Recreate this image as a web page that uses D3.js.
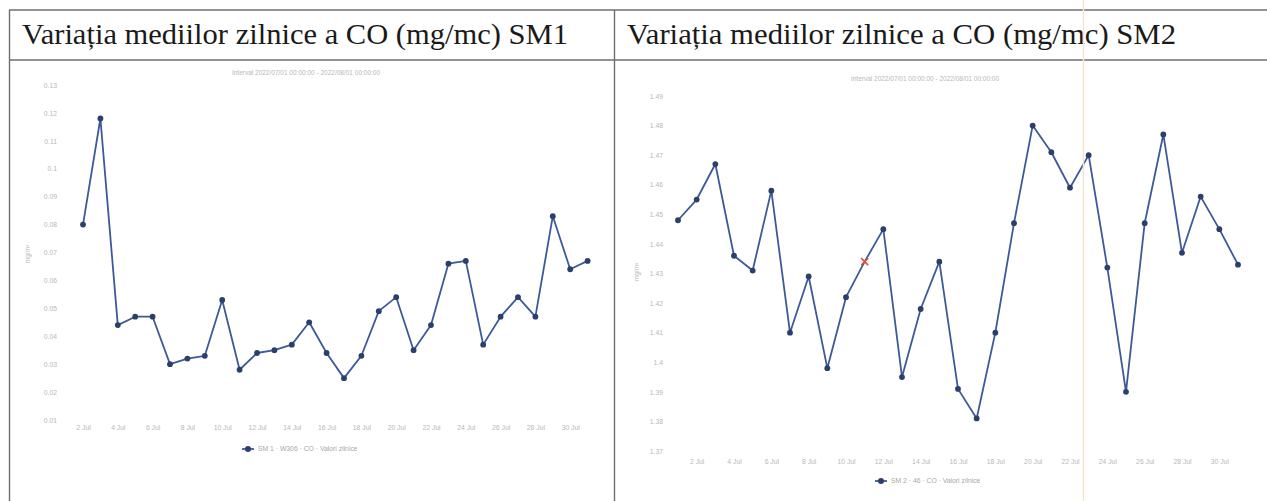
<!DOCTYPE html>
<html>
<head>
<meta charset="utf-8">
<script src="https://cdn.jsdelivr.net/npm/d3@7"></script>
<style>
  html, body { margin: 0; padding: 0; background: #fff; }
  svg { display: block; }
</style>
</head>
<body>
<svg id="chart" width="1267" height="501"></svg>
<script>
// ---- Data ----
const titleSM1 = "Variația mediilor zilnice a CO (mg/mc) SM1";
const titleSM2 = "Variația mediilor zilnice a CO (mg/mc) SM2";
const subtitleText = "Interval 2022/07/01 00:00:00 - 2022/08/01 00:00:00";
const legendSM1 = "SM 1 · W306 · CO · Valori zilnice";
const legendSM2 = "SM 2 · 46 · CO · Valori zilnice";
const unitLabel = "mg/m³";

const sm1Days = [2,3,4,5,6,7,8,9,10,11,12,13,14,15,16,17,18,19,20,21,22,23,24,25,26,27,28,29,30,31];
const sm1Values = [0.080,0.118,0.044,0.047,0.047,0.030,0.032,0.033,0.053,0.028,
                   0.034,0.035,0.037,0.045,0.034,0.025,0.033,0.049,0.054,0.035,
                   0.044,0.066,0.067,0.037,0.047,0.054,0.047,0.083,0.064,0.067];

const sm2Days = [1,2,3,4,5,6,7,8,9,10,11,12,13,14,15,16,17,18,19,20,21,22,23,24,25,26,27,28,29,30,31];
const sm2Values = [1.448,1.455,1.467,1.436,1.431,1.458,1.410,1.429,1.398,1.422,
                   1.434,1.445,1.395,1.418,1.434,1.391,1.381,1.410,1.447,1.480,
                   1.471,1.459,1.470,1.432,1.390,1.447,1.477,1.437,1.456,1.445,1.433];
const sm2HighlightDay = 11;

const sm1YTicks = [0.01,0.02,0.03,0.04,0.05,0.06,0.07,0.08,0.09,0.1,0.11,0.12,0.13];
const sm2YTicks = [1.37,1.38,1.39,1.4,1.41,1.42,1.43,1.44,1.45,1.46,1.47,1.48,1.49];
const xTickDays = [2,4,6,8,10,12,14,16,18,20,22,24,26,28,30];

// ---- Drawing ----
const svg = d3.select("#chart");
const day = d => new Date(2022, 6, d);
const monthFmt = d3.timeFormat("%-d Jul");

// table frame
const frame = svg.append("g").attr("stroke", "#6f6f6f").attr("stroke-width", 1.4).attr("fill", "none");
frame.append("line").attr("x1", 9).attr("x2", 1267).attr("y1", 10).attr("y2", 10);
frame.append("line").attr("x1", 9).attr("x2", 1267).attr("y1", 60).attr("y2", 60);
frame.append("line").attr("x1", 9.5).attr("x2", 9.5).attr("y1", 10).attr("y2", 501);
frame.append("line").attr("x1", 614.5).attr("x2", 614.5).attr("y1", 10).attr("y2", 501);

// titles
svg.append("text").attr("x", 22).attr("y", 44)
  .attr("font-family", "'Liberation Serif', 'Times New Roman', serif")
  .attr("font-size", 30).attr("fill", "#1a1a1a")
  .attr("textLength", 546).attr("lengthAdjust", "spacingAndGlyphs").text(titleSM1);
svg.append("text").attr("x", 627).attr("y", 44)
  .attr("font-family", "'Liberation Serif', 'Times New Roman', serif")
  .attr("font-size", 30).attr("fill", "#1a1a1a")
  .attr("textLength", 549).attr("lengthAdjust", "spacingAndGlyphs").text(titleSM2);

const lineColor = "#3d5a98";
const dotColor = "#2b3f6c";
const faint = "#b8b8b8";
const sans = "'Liberation Sans', Arial, sans-serif";

function drawPanel(cfg) {
  const x = d3.scaleTime().domain([day(cfg.days[0]), day(cfg.days[cfg.days.length - 1])]).range(cfg.xRange);
  const y = d3.scaleLinear().domain(cfg.yDomain).range(cfg.yRange);
  const g = svg.append("g");

  // subtitle
  g.append("text").attr("x", cfg.subtitlePos[0]).attr("y", cfg.subtitlePos[1])
    .attr("text-anchor", "middle").attr("font-family", sans).attr("font-size", 6.5)
    .attr("fill", faint).text(subtitleText);

  // y axis
  const yAxis = d3.axisLeft(y).tickValues(cfg.yTicks).tickSize(0).tickPadding(0)
    .tickFormat(d3.format("~g"));
  const ya = g.append("g").attr("transform", `translate(${cfg.yAxisX},0)`).call(yAxis);
  ya.select(".domain").remove();
  ya.selectAll("text").attr("font-family", sans).attr("font-size", 6.8).attr("fill", faint);

  // unit label
  g.append("text").attr("transform", `translate(${cfg.unitPos[0]},${cfg.unitPos[1]}) rotate(-90)`)
    .attr("text-anchor", "middle").attr("font-family", sans).attr("font-size", 6.5)
    .attr("fill", faint).text(unitLabel);

  // x axis
  const xAxis = d3.axisBottom(x).tickValues(xTickDays.map(day)).tickSize(0).tickPadding(0)
    .tickFormat(monthFmt);
  const xa = g.append("g").attr("transform", `translate(0,${cfg.xAxisY})`).call(xAxis);
  xa.select(".domain").remove();
  xa.selectAll("text").attr("font-family", sans).attr("font-size", 6.8).attr("fill", faint);

  // line
  const data = cfg.days.map((d, i) => ({ d, v: cfg.values[i] }));
  const line = d3.line().x(p => x(day(p.d))).y(p => y(p.v));
  g.append("path").datum(data).attr("d", line).attr("fill", "none")
    .attr("stroke", lineColor).attr("stroke-width", 1.8).attr("stroke-linejoin", "round");

  g.selectAll("circle.pt").data(data.filter(p => p.d !== cfg.highlight)).enter()
    .append("circle").attr("class", "pt")
    .attr("cx", p => x(day(p.d))).attr("cy", p => y(p.v)).attr("r", 2.9)
    .attr("fill", dotColor);

  if (cfg.highlight) {
    const hp = data.find(p => p.d === cfg.highlight);
    const hx = x(day(hp.d)), hy = y(hp.v);
    g.append("path").attr("d", `M${hx-3.5},${hy-3.5}L${hx+3.5},${hy+3.5}M${hx-3.5},${hy+3.5}L${hx+3.5},${hy-3.5}`)
      .attr("stroke", "#e0503a").attr("stroke-width", 1.6);
  }

  // legend
  const lg = g.append("g").attr("transform", `translate(${cfg.legendPos[0]},${cfg.legendPos[1]})`);
  lg.append("line").attr("x1", 0).attr("x2", 12).attr("y1", 0).attr("y2", 0)
    .attr("stroke", lineColor).attr("stroke-width", 1.8);
  lg.append("circle").attr("cx", 6).attr("cy", 0).attr("r", 3).attr("fill", dotColor);
  lg.append("text").attr("x", 16).attr("y", 2.3).attr("font-family", sans)
    .attr("font-size", 6.8).attr("fill", "#a8a8a8").text(cfg.legend);
}

drawPanel({
  days: sm1Days, values: sm1Values,
  xRange: [83, 587.6], yDomain: [0.01, 0.13], yRange: [420, 85],
  yTicks: sm1YTicks, yAxisX: 57, xAxisY: 425,
  unitPos: [30, 254], subtitlePos: [306, 75],
  legendPos: [242, 449], legend: legendSM1
});

drawPanel({
  days: sm2Days, values: sm2Values, highlight: sm2HighlightDay,
  xRange: [678, 1238], yDomain: [1.37, 1.49], yRange: [451, 96],
  yTicks: sm2YTicks, yAxisX: 663, xAxisY: 459,
  unitPos: [639, 272], subtitlePos: [925, 81],
  legendPos: [875, 481], legend: legendSM2
});

// faint scan artefact line on the right panel
svg.append("line").attr("x1", 1083.5).attr("x2", 1083.5).attr("y1", 0).attr("y2", 501)
  .attr("stroke", "#f6e4cf").attr("stroke-width", 1.5);
</script>
</body>
</html>
